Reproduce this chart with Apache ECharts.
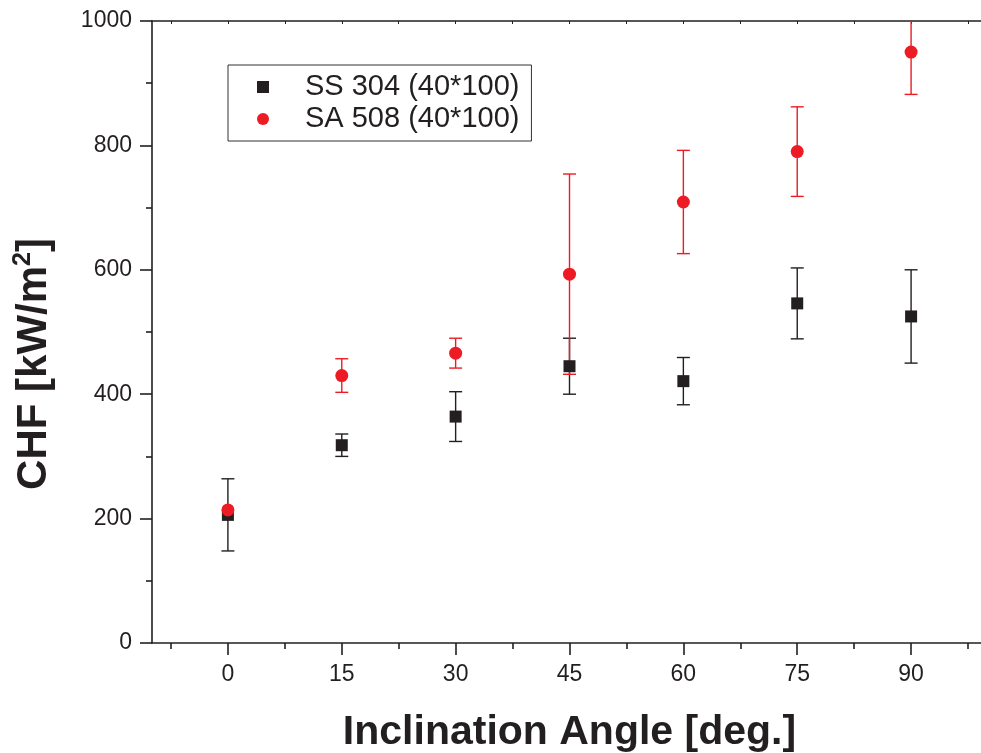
<!DOCTYPE html>
<html>
<head>
<meta charset="UTF-8">
<title>CHF vs inclination</title>
<script src="https://cdn.jsdelivr.net/npm/echarts@6/dist/echarts.min.js"></script>
<style>
  html, body { margin: 0; padding: 0; background: #fff; }
  #chart { width: 981px; height: 753px; }
</style>
</head>
<body>
<div id="chart"></div>
<script type="text/javascript">
// data
var angles = [0, 15, 30, 45, 60, 75, 90];
var ssNames = 'SS 304 (40*100)';
var ssValues = [206, 318, 364, 445, 421, 546, 525];
var ssErrors = [58, 18, 40, 45, 38, 57, 75];
var saNames = 'SA 508 (40*100)';
var saValues = [214, 430, 466, 593, 709, 790, 950];
var saErrors = [0, 27, 24, 161, 83, 72, 68];
var xMajorTicks = [0, 15, 30, 45, 60, 75, 90];
var xMinorTicks = [-7.5, 7.5, 22.5, 37.5, 52.5, 67.5, 82.5, 97.5];

var black = '#231f20';
var red = '#ed1c24';
var font = '"Liberation Sans", Arial, sans-serif';

function points(vals) {
	var out = [];
	for (var i = 0; i < angles.length; i++) out.push([angles[i], vals[i]]);
	return out;
}
function bars(vals, errs) {
	var out = [];
	for (var i = 0; i < angles.length; i++) {
		if (errs[i] > 0) out.push([angles[i], vals[i] - errs[i], vals[i] + errs[i]]);
	}
	return out;
}
function errorBar(color) {
	return function (params, api) {
		var lo = api.coord([api.value(0), api.value(1)]);
		var hi = api.coord([api.value(0), api.value(2)]);
		var w = 6.5;
		var st = { stroke: color, lineWidth: 1.4 };
		return {
			type: 'group',
			children: [
				{ type: 'line', shape: { x1: hi[0], y1: hi[1], x2: lo[0], y2: lo[1] }, style: st },
				{ type: 'line', shape: { x1: hi[0] - w, y1: hi[1], x2: hi[0] + w, y2: hi[1] }, style: st },
				{ type: 'line', shape: { x1: lo[0] - w, y1: lo[1], x2: lo[0] + w, y2: lo[1] }, style: st }
			]
		};
	};
}

var myChart = echarts.init(document.getElementById('chart'));
var option = {
	backgroundColor: '#fff',
	animation: false,
	grid: { left: 152, top: 21, width: 835, bottom: 110, outerBoundsMode: 'none', containLabel: false },
	legend: {
		orient: 'vertical',
		left: 228, top: 65,
		selectedMode: false,
		borderColor: '#333', borderWidth: 1,
		padding: [6, 12, 6, 29],
		itemGap: 0,
		itemWidth: 12, itemHeight: 12,
		textStyle: { fontFamily: font, fontSize: 29, color: black, lineHeight: 32, padding: [0, 0, 0, 31] },
		data: [{ name: ssNames, icon: 'rect' }, { name: saNames, icon: 'circle' }]
	},
	xAxis: [{
		type: 'value', min: -10, max: 100, position: 'bottom',
		name: 'Inclination Angle [deg.]', nameLocation: 'middle', nameGap: 69,
		nameTextStyle: { fontFamily: font, fontSize: 41, fontWeight: 'bold', color: black },
		axisLine: { onZero: false, lineStyle: { color: black, width: 1.6 } },
		axisTick: { length: 12, lineStyle: { color: black, width: 1.6 }, customValues: xMajorTicks },
		axisLabel: { fontFamily: font, fontSize: 23, color: black, margin: 20, customValues: xMajorTicks },
		splitLine: { show: false }
	}, {
		type: 'value', min: -10, max: 100, position: 'bottom',
		axisLine: { show: false, onZero: false },
		axisTick: { length: 6, lineStyle: { color: black, width: 1.6 }, customValues: xMinorTicks },
		axisLabel: { show: false },
		splitLine: { show: false }
	}, {
		type: 'value', min: -10, max: 100, position: 'top',
		axisLine: { onZero: false, lineStyle: { color: black, width: 1.6 } },
		axisTick: { length: 3, inside: true, lineStyle: { color: black, width: 1 }, customValues: xMinorTicks.concat(xMajorTicks) },
		axisLabel: { show: false },
		splitLine: { show: false }
	}],
	yAxis: [{
		type: 'value', min: 0, max: 1000, interval: 200, position: 'left',
		name: '{a|CHF [kW/m}{s|2}{a|]}', nameLocation: 'middle', nameGap: 95,
		nameTextStyle: {
			padding: [0, 64, 0, 0],
			rich: {
				a: { fontFamily: font, fontSize: 42, fontWeight: 'bold', color: black, lineHeight: 46 },
				s: { fontFamily: font, fontSize: 25, fontWeight: 'bold', color: black, verticalAlign: 'top', lineHeight: 46 }
			}
		},
		axisLine: { show: true, onZero: false, lineStyle: { color: black, width: 1.6 } },
		axisTick: { show: true, length: 12, lineStyle: { color: black, width: 1.6 } },
		minorTick: { show: true, splitNumber: 2, length: 6, lineStyle: { color: black, width: 1.6 } },
		axisLabel: { fontFamily: font, fontSize: 23, color: black, margin: 20, formatter: function (v) { return String(v); } },
		splitLine: { show: false }
	}],
	series: [
		{ type: 'custom', name: 'ssErr', clip: true, renderItem: errorBar(black), data: bars(ssValues, ssErrors), z: 2, silent: true },
		{ type: 'custom', name: 'saErr', clip: true, renderItem: errorBar(red), data: bars(saValues, saErrors), z: 2, silent: true },
		{ type: 'scatter', name: ssNames, symbol: 'rect', symbolSize: 12, itemStyle: { color: black, opacity: 1 }, data: points(ssValues), z: 3 },
		{ type: 'scatter', name: saNames, symbol: 'circle', symbolSize: 13, itemStyle: { color: red, opacity: 1 }, data: points(saValues), z: 4 }
	]
};
myChart.setOption(option);
</script>
</body>
</html>
